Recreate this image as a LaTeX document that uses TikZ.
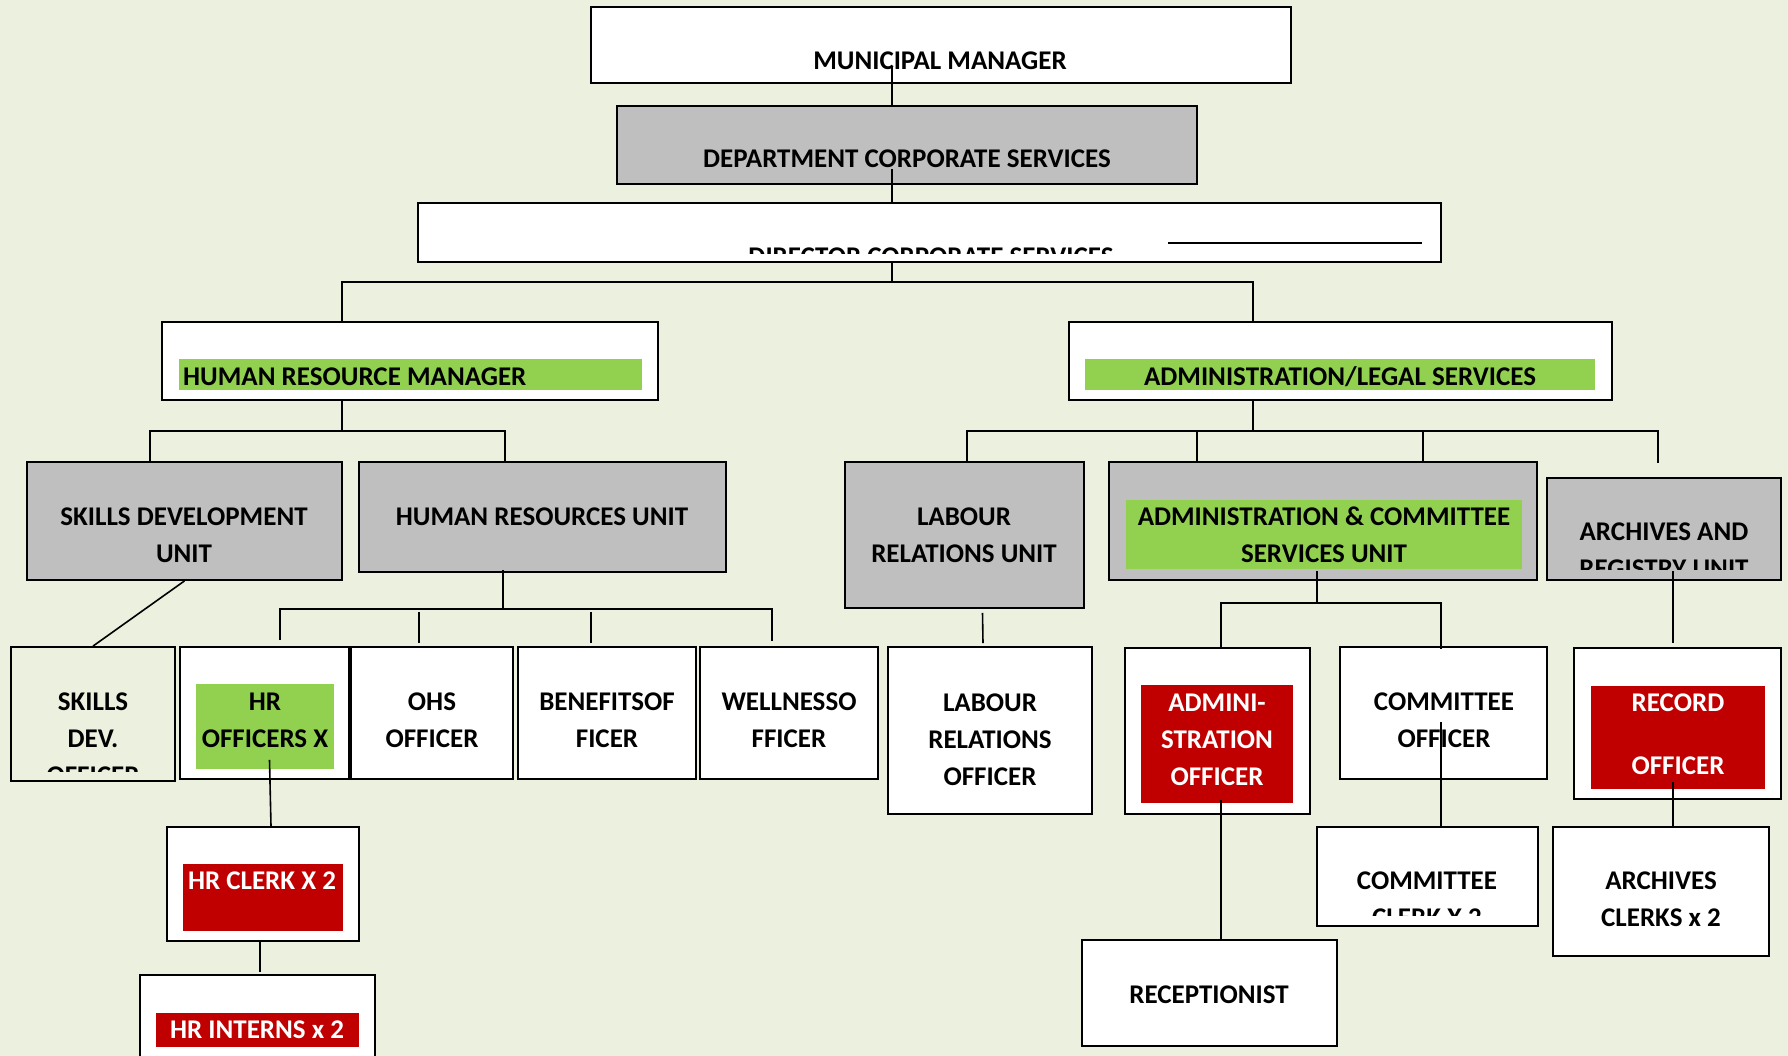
\documentclass[tikz,border=0pt]{standalone}
\usepackage{fontspec}
\setmainfont{Carlito}
\usetikzlibrary{fit}
\definecolor{pagegreen}{HTML}{EBF1DE}
\definecolor{unitgray}{HTML}{BFBFBF}
\definecolor{markgreen}{HTML}{92D050}
\definecolor{markred}{HTML}{C00000}
\tikzset{
  box/.style={draw=black, line width=1.8pt, inner sep=0pt, fill=white},
  unitbox/.style={box, fill=unitgray},
  plainbox/.style={box, fill=pagegreen},
  greenmark/.style={fill=markgreen, inner sep=0pt},
  redmark/.style={fill=markred, inner sep=0pt},
  lbl/.style={font=\bfseries\fontsize{27}{37}\selectfont, align=center, inner sep=0pt, anchor=base},
  wlbl/.style={lbl, text=white},
  link/.style={line width=1.6pt}
}
\begin{document}
\begin{tikzpicture}[x=1pt,y=-1pt]
\fill[pagegreen] (0,0) rectangle (1788,1056);
\useasboundingbox (0,0) rectangle (1788,1056);

% boxes
\node[box, fit={(591,7)(1291,83)}] (mm) {};
\node[unitbox, fit={(617,106)(1197,184)}] (dept) {};
\node[box, fit={(418,203)(1441,262)}] (dir) {};
\node[box, fit={(162,322)(658,400)}] (hrm) {};
\node[greenmark, fit={(179,359)(642,390)}] (hrmmark) {};
\node[box, fit={(1069,322)(1612,400)}] (als) {};
\node[greenmark, fit={(1085,359)(1595,390)}] (alsmark) {};
\node[unitbox, fit={(27,462)(342,580)}] (sdu) {};
\node[unitbox, fit={(359,462)(726,572)}] (hru) {};
\node[unitbox, fit={(845,462)(1084,608)}] (lru) {};
\node[unitbox, fit={(1109,462)(1537,580)}] (acs) {};
\node[greenmark, fit={(1126,500)(1522,569)}] (acsmark) {};
\node[unitbox, fit={(1547,478)(1781,580)}] (aru) {};
\node[plainbox, fit={(11,647)(175,781)}] (sdo) {};
\node[box, fit={(180,647)(349,779)}] (hro) {};
\node[greenmark, fit={(196,684)(334,769)}] (hromark) {};
\node[box, fit={(351,647)(513,779)}] (ohs) {};
\node[box, fit={(518,647)(696,779)}] (ben) {};
\node[box, fit={(700,647)(878,779)}] (wel) {};
\node[box, fit={(888,647)(1092,814)}] (lro) {};
\node[box, fit={(1125,648)(1310,814)}] (ado) {};
\node[redmark, fit={(1141,685)(1293,803)}] (adomark) {};
\node[box, fit={(1340,647)(1547,779)}] (cmo) {};
\node[box, fit={(1574,648)(1781,799)}] (reo) {};
\node[redmark, fit={(1591,686)(1765,789)}] (reomark) {};
\node[box, fit={(167,827)(359,941)}] (hrc) {};
\node[redmark, fit={(183,864)(343,931)}] (hrcmark) {};
\node[box, fit={(1317,827)(1538,926)}] (cmc) {};
\node[box, fit={(1553,827)(1769,956)}] (arc) {};
\node[box, fit={(140,975)(375,1080)}] (hri) {};
\node[redmark, fit={(156,1013)(359,1047)}] (hrimark) {};
\node[box, fit={(1082,940)(1337,1046)}] (rcp) {};

% texts (base = last line)
\node[lbl] (mmtxt) at (940,70) {MUNICIPAL MANAGER};
\node[lbl] (depttxt) at (907,168) {DEPARTMENT CORPORATE SERVICES};
\begin{scope}
\clip (dir.north west) rectangle ([yshift=9pt]dir.south east);
\node[lbl] (dirtxt) at (931,266) {DIRECTOR CORPORATE SERVICES};
\end{scope}
\draw[link] (1168,243) -- (1422,243);
\node[lbl, anchor=base west] (hrmtxt) at (183,385) {HUMAN RESOURCE MANAGER};
\node[lbl] (alstxt) at (1340,385) {ADMINISTRATION/LEGAL SERVICES};
\node[lbl] (sdutxt) at (184,562) {SKILLS DEVELOPMENT\\UNIT};
\node[lbl] (hrutxt) at (542,525) {HUMAN RESOURCES UNIT};
\node[lbl] (lrutxt) at (964,562) {LABOUR\\RELATIONS UNIT};
\node[lbl] (acstxt) at (1324,562) {ADMINISTRATION \& COMMITTEE\\SERVICES UNIT};
\begin{scope}
\clip (aru.north west) rectangle ([yshift=11pt]aru.south east);
\node[lbl] (arutxt) at (1664,577) {ARCHIVES AND\\REGISTRY UNIT};
\end{scope}
\begin{scope}
\clip (sdo.north west) rectangle ([yshift=10pt]sdo.south east);
\node[lbl] (sdotxt) at (93,784) {SKILLS\\DEV.\\OFFICER};
\end{scope}
\node[lbl] (hrotxt) at (265,747) {HR\\OFFICERS X};
\node[lbl] (ohstxt) at (432,747) {OHS\\OFFICER};
\node[lbl] (bentxt) at (607,747) {BENEFITSOF\\FICER};
\node[lbl] (weltxt) at (789,747) {WELLNESSO\\FFICER};
\node[lbl] (lrotxt) at (990,785) {LABOUR\\RELATIONS\\OFFICER};
\node[wlbl] (adotxt) at (1217,785) {ADMINI-\\STRATION\\OFFICER};
\node[lbl] (cmotxt) at (1444,747) {COMMITTEE\\OFFICER};
\node[wlbl] (reotxt) at (1678,774) {RECORD\\[26pt]OFFICER};
\node[wlbl] (hrctxt) at (262,889) {HR CLERK X 2};
\begin{scope}
\clip (cmc.north west) rectangle ([yshift=11pt]cmc.south east);
\node[lbl] (cmctxt) at (1427,926) {COMMITTEE\\CLERK X 2};
\end{scope}
\node[lbl] (arctxt) at (1661,926) {ARCHIVES\\CLERKS x 2};
\node[wlbl] (hritxt) at (257,1038) {HR INTERNS x 2};
\node[lbl] (rcptxt) at (1209,1003) {RECEPTIONIST};

% top spine
\coordinate (spine) at (892,282);
\draw[link] ([yshift=18pt]mm.south -| spine) -- (dept.north -| spine);
\draw[link] ([yshift=16pt]dept.south -| spine) -- (dir.north -| spine);
\draw[link] (dir.south -| spine) -- (spine);
\coordinate (hrdrop) at (342,282);
\coordinate (aldrop) at (1253,282);
\draw[link] (hrm.north -| hrdrop) -- (hrdrop) -- (aldrop) -- (als.north -| aldrop);

% human resources side
\coordinate (hrbar) at (342,431);
\draw[link] (hrm.south -| hrbar) -- (hrbar);
\coordinate (sdudrop) at (150,431);
\coordinate (hrudrop) at (505,431);
\draw[link] (sdu.north -| sdudrop) -- (sdudrop) -- (hrudrop) -- (hru.north -| hrudrop);
\draw[link] (sdu.south) -- (sdo.north);
\coordinate (hrusub) at (503,609);
\draw[link] ([yshift=3pt]hru.south -| hrusub) -- (hrusub);
\coordinate (hrsL) at (280,609);
\coordinate (hrsR) at (772,609);
\draw[link] ([yshift=6pt]hro.north -| hrsL) -- (hrsL) -- (hrsR) -- ([yshift=5pt]wel.north -| hrsR);
\coordinate (ohsdrop) at (419,612);
\coordinate (bendrop) at (591,612);
\draw[link] (ohsdrop) -- ([yshift=3pt]ohs.north -| ohsdrop);
\draw[link] (bendrop) -- ([yshift=3pt]ben.north -| bendrop);
\draw[link] ([xshift=5pt,yshift=20pt]hro.south) -- ([xshift=8pt]hrc.north);
\draw[link] ([xshift=-3pt]hrc.south) -- ++(0,30);

% administration side
\coordinate (albar) at (1253,431);
\draw[link] (als.south -| albar) -- (albar);
\coordinate (lrudrop) at (967,431);
\coordinate (arudrop) at (1658,431);
\draw[link] (lru.north -| lrudrop) -- (lrudrop) -- (arudrop) -- ++(0,32);
\coordinate (acsdropA) at (1197,431);
\coordinate (acsdropB) at (1423,431);
\draw[link] (acsdropA) -- (acs.north -| acsdropA);
\draw[link] (acsdropB) -- (acs.north -| acsdropB);
\draw[link] ([xshift=18pt,yshift=-4pt]lru.south) -- ([xshift=-7pt,yshift=3pt]lro.north);
\coordinate (acsbar) at (1317,603);
\draw[link] ([yshift=10pt]acs.south -| acsbar) -- (acsbar);
\coordinate (adodrop) at (1221,603);
\coordinate (cmodrop) at (1441,603);
\draw[link] (ado.north -| adodrop) -- (adodrop) -- (cmodrop) -- ([yshift=-3pt]cmo.north -| cmodrop);
\draw[link] ([yshift=15pt]ado.south -| adodrop) -- (rcp.north -| adodrop);
\draw[link] ([yshift=-9pt]cmo.center -| cmodrop) -- (cmc.north -| cmodrop);
\coordinate (arx) at (1673,0);
\draw[link] ([yshift=10pt]aru.south -| arx) -- ([yshift=4pt]reo.north -| arx);
\draw[link] ([yshift=18pt]reo.south -| arx) -- (arc.north -| arx);
\end{tikzpicture}
\end{document}
